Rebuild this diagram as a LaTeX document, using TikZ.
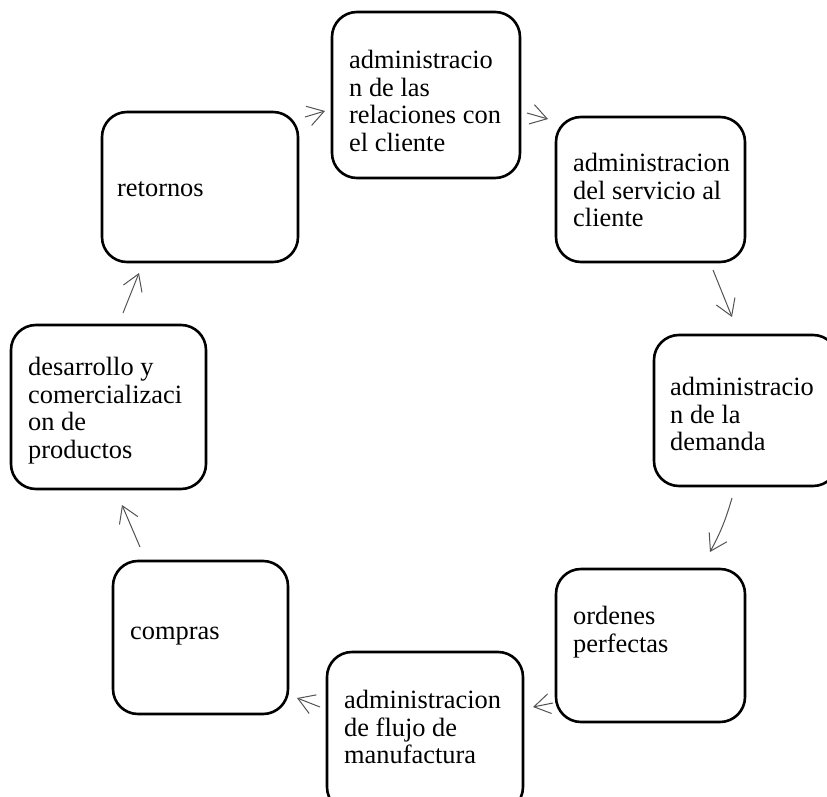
\documentclass[tikz,border=0pt]{standalone}
\usepackage{fontspec}
\setmainfont{Liberation Serif}
\usetikzlibrary{arrows.meta}
\tikzset{
  stagebox/.style={draw=black, line width=2.6pt, rounded corners=25pt, inner sep=0pt},
  stagetext/.style={anchor=north west, inner sep=0pt, align=left,
    font=\fontsize{26.4}{27.7}\selectfont},
  flow/.style={draw=black!68, line width=1pt,
    -{Straight Barb[length=16pt,width=20pt,line width=1pt]}}
}
\begin{document}
\begin{tikzpicture}[x=1pt,y=-1pt]
\useasboundingbox (0,0) rectangle (827,797);

% stage boxes
\node[stagebox, minimum width=188pt, minimum height=166pt] (b1) at (426,95) {};
\node[stagebox, minimum width=189pt, minimum height=145pt] (b2) at (650.5,189.5) {};
\node[stagebox, minimum width=184pt, minimum height=151pt] (b3) at (746,410.5) {};
\node[stagebox, minimum width=189pt, minimum height=153pt] (b4) at (650.5,645.5) {};
\node[stagebox, minimum width=196pt, minimum height=160pt] (b5) at (425,732) {};
\node[stagebox, minimum width=175pt, minimum height=153pt] (b6) at (200.5,637.5) {};
\node[stagebox, minimum width=195pt, minimum height=164pt] (b7) at (108.5,407) {};
\node[stagebox, minimum width=196pt, minimum height=150pt] (b8) at (200,187) {};

% stage labels
\node[stagetext] (t1) at (349,50) {administracio\\n de las\\relaciones con\\el cliente};
\node[stagetext] (t2) at (573,153) {administracion\\del servicio al\\cliente};
\node[stagetext] (t3) at (670,377) {administracio\\n de la\\demanda};
\node[stagetext] (t4) at (573,606) {ordenes\\perfectas};
\node[stagetext] (t5) at (344,690) {administracion\\de flujo de\\manufactura};
\node[stagetext] (t6) at (130,627) {compras};
\node[stagetext] (t7) at (28,357) {desarrollo y\\comercializaci\\on de\\productos};
\node[stagetext] (t8) at (117,181) {retornos};

% arrow end points between the boxes
\coordinate (a1s) at (305,117); \coordinate (a1e) at (325,111);
\coordinate (a2s) at (527,113); \coordinate (a2e) at (548,119);
\coordinate (a3s) at (713,270); \coordinate (a3e) at (732,317);
\coordinate (a4s) at (732,498); \coordinate (a4e) at (710,552);
\coordinate (a5s) at (553,703); \coordinate (a5e) at (533,707);
\coordinate (a6s) at (320,707); \coordinate (a6e) at (297,698);
\coordinate (a7s) at (140,547); \coordinate (a7e) at (122,505);
\coordinate (a8s) at (123,313); \coordinate (a8e) at (139,273);

\draw[flow] (a1s) -- (a1e);
\draw[flow] (a2s) -- (a2e);
\draw[flow] (a3s) -- (a3e);
\draw[flow] (a4s) to[bend left=6] (a4e);
\draw[flow] (a5s) -- (a5e);
\draw[flow] (a6s) -- (a6e);
\draw[flow] (a7s) -- (a7e);
\draw[flow] (a8s) -- (a8e);
\end{tikzpicture}
\end{document}
